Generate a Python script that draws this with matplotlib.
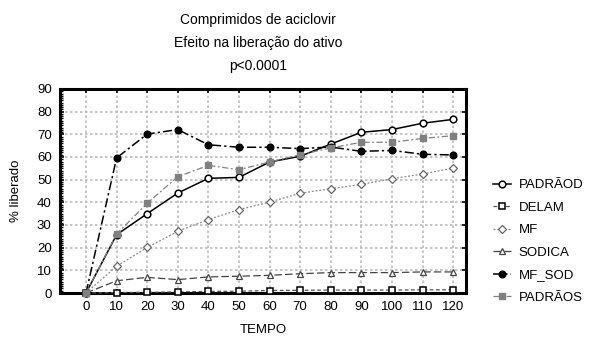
import matplotlib
matplotlib.use("Agg")
import matplotlib.pyplot as plt
from matplotlib.ticker import MultipleLocator

plt.rcParams['font.family'] = ['Liberation Sans', 'DejaVu Sans']

tempo = [0, 10, 20, 30, 40, 50, 60, 70, 80, 90, 100, 110, 120]

padraod = [0, 25.7, 35.0, 44.1, 50.6, 51.0, 57.8, 60.3, 65.7, 70.9, 72.1, 74.9, 76.6]
delam = [0, 0.2, 0.3, 0.5, 0.7, 0.8, 1.1, 1.2, 1.3, 1.3, 1.3, 1.4, 1.4]
mf = [0, 11.8, 20.1, 27.2, 32.4, 36.8, 40.1, 44.0, 46.0, 47.9, 50.4, 52.5, 55.1]
sodica = [0, 5.4, 6.9, 5.9, 7.1, 7.4, 7.8, 8.5, 9.0, 9.0, 9.0, 9.3, 9.3]
mf_sod = [0, 59.6, 70.1, 72.1, 65.4, 64.3, 64.3, 63.7, 64.4, 62.5, 62.9, 61.2, 60.9]
padraos = [0, 26.0, 39.6, 51.3, 56.3, 54.4, 57.8, 61.0, 64.0, 66.5, 66.5, 68.2, 69.4]

titulo = "Comprimidos de aciclovir\nEfeito na liberação do ativo\np<0.0001"

fig = plt.figure(figsize=(5.89, 3.39), dpi=100)
ax = fig.add_axes([60/589, 1-293/339, (466-60)/589, (293-89)/339])

pos = list(range(len(tempo)))

styles = [
    ("PADRÃOD", padraod, dict(color='black', ls='-', lw=1.1, marker='o', ms=4.8,
                              mfc='white', mec='black', mew=1.1)),
    ("DELAM", delam, dict(color='#555555', ls=(0, (3, 2)), lw=0.9, marker='s', ms=4,
                          mfc='white', mec='black', mew=1.1)),
    ("MF", mf, dict(color='#888888', ls=(0, (1.5, 1.5)), lw=0.9, marker='D', ms=3.8,
                    mfc='white', mec='#666666', mew=0.9)),
    ("SODICA", sodica, dict(color='#444444', ls=(0, (6, 2.5)), lw=0.9, marker='^', ms=4.2,
                            mfc='white', mec='#444444', mew=0.9)),
    ("MF_SOD", mf_sod, dict(color='black', ls=(0, (6, 2, 1.5, 2)), lw=1.1, marker='o', ms=4.8,
                            mfc='black', mec='black')),
    ("PADRÃOS", padraos, dict(color='#808080', ls=(0, (5, 2, 1.5, 2)), lw=0.9, marker='s', ms=4.8,
                              mfc='#808080', mec='#808080')),
]

handles = []
for name, vals, kw in styles:
    h, = ax.plot(pos, vals, label=name, clip_on=False, zorder=3, **kw)
    handles.append(h)

ax.set_xlim(-0.85, 12.42)
ax.set_ylim(0, 90)
ax.set_xticks(pos)
ax.set_xticklabels([str(t) for t in tempo])
ax.yaxis.set_major_locator(MultipleLocator(10))
ax.yaxis.set_minor_locator(MultipleLocator(1))

ax.grid(True, which='major', color='#bbbbbb', ls=(0, (1.5, 1.5)), lw=1.2)
ax.set_axisbelow(True)

for s in ax.spines.values():
    s.set_linewidth(2.2)
    s.set_color('black')

ax.tick_params(axis='both', which='major', direction='in', length=3, width=1.2,
               labelsize=9.5, top=True, right=True, pad=6)
ax.tick_params(axis='y', which='minor', direction='in', length=2.5, width=1.0,
               left=True, right=False)
ax.tick_params(axis='x', which='major', pad=6)

ax.set_xlabel("TEMPO", fontsize=9.5, labelpad=8)
ax.set_ylabel("% liberado", fontsize=9.5, labelpad=11)

fig.text(258/589, 1-43/339, titulo, ha='center', va='center', fontsize=10,
         linespacing=1.85)

fig.legend(handles=handles, loc='upper left', bbox_to_anchor=(493/589, 1-179/339),
           frameon=False, fontsize=9.5, handlelength=1.4, handletextpad=0.55,
           labelspacing=0.78, borderaxespad=0, borderpad=0)

fig.savefig("out.png", dpi=100)
